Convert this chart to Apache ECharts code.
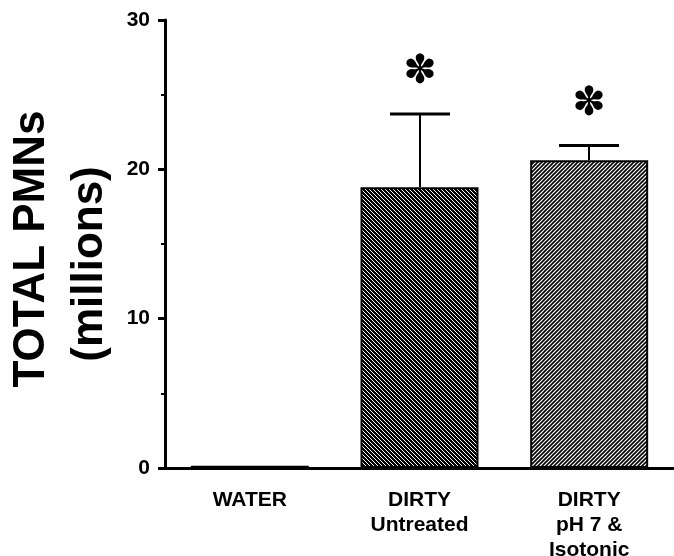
<!DOCTYPE html>
<html><head><meta charset="utf-8">
<script src="https://cdn.jsdelivr.net/npm/echarts@6/dist/echarts.min.js"></script>
<style>html,body{margin:0;padding:0;background:#fff}#c{width:674px;height:556px}</style>
</head><body><div id="c"></div>
<script>
const categories = ['WATER', 'DIRTY\nUntreated', 'DIRTY\npH 7 &\nIsotonic'];
const means = [0.15, 18.8, 20.6];
const errorUpper = [0.15, 23.7, 21.6];
const significant = [false, true, true];
const yTicks = [0, 10, 20, 30];

function hatch(dir, bg, fg, lw) {
  const c = document.createElement('canvas');
  c.width = 8; c.height = 8;
  const g = c.getContext('2d');
  g.fillStyle = bg; g.fillRect(0, 0, 8, 8);
  g.strokeStyle = fg; g.lineWidth = lw;
  for (let k = -3; k <= 3; k++) {
    g.beginPath();
    if (dir === '/') { g.moveTo(k * 4 - 2, 10); g.lineTo(k * 4 + 10, -2); }
    else { g.moveTo(k * 4 - 2, -2); g.lineTo(k * 4 + 10, 10); }
    g.stroke();
  }
  return c;
}
const pats = [
  '#000',
  { image: hatch('\\', '#000', '#fff', 1.0), repeat: 'repeat' },
  { image: hatch('/', '#fff', '#000', 1.6), repeat: 'repeat' }
];

const chart = echarts.init(document.getElementById('c'), null, { renderer: 'canvas' });
const font = '"Liberation Sans", Arial, Helvetica, sans-serif';
chart.setOption({
  animation: false,
  grid: { left: 165, right: 0, top: 20, bottom: 88, containLabel: false, outerBoundsMode: 'none' },
  xAxis: {
    type: 'category', data: categories,
    axisLine: { lineStyle: { color: '#000', width: 3 } },
    axisTick: { show: false },
    axisLabel: { color: '#000', fontFamily: font, fontWeight: 'bold', fontSize: 21, lineHeight: 25, margin: 20 }
  },
  yAxis: {
    type: 'value', min: yTicks[0], max: yTicks[yTicks.length - 1], interval: 10,
    axisLine: { show: true, lineStyle: { color: '#000', width: 3 } },
    axisTick: { show: true, length: 7, lineStyle: { color: '#000', width: 3 } },
    minorTick: { show: true, splitNumber: 2, length: 4, lineStyle: { color: '#000', width: 2 } },
    splitLine: { show: false },
    axisLabel: { color: '#000', fontFamily: font, fontWeight: 'bold', fontSize: 21, margin: 15 }
  },
  graphic: [
    { type: 'text', rotation: Math.PI / 2, x: 32, y: 249,
      style: { text: 'TOTAL PMNs', font: 'bold 44px ' + font, fill: '#000', align: 'center', verticalAlign: 'middle' } },
    { type: 'text', rotation: Math.PI / 2, x: 90, y: 264,
      style: { text: '(millions)', font: 'bold 44px ' + font, fill: '#000', align: 'center', verticalAlign: 'middle' } }
  ],
  series: [
    {
      type: 'bar', barWidth: 118,
      data: means.map((v, i) => ({ value: v, itemStyle: { color: pats[i] } })),
      itemStyle: { borderColor: '#000', borderWidth: 2 }
    },
    {
      type: 'custom',
      data: means.map((v, i) => [i, v, errorUpper[i], significant[i] ? 1 : 0]),
      renderItem: function (params, api) {
        const i = api.value(0);
        if (!api.value(3)) return null;
        const p0 = api.coord([i, api.value(1)]);
        const p1 = api.coord([i, api.value(2)]);
        const x = Math.round(p0[0]);
        return {
          type: 'group',
          children: [
            { type: 'line', shape: { x1: x, y1: p0[1], x2: x, y2: p1[1] }, style: { stroke: '#000', lineWidth: 2 } },
            { type: 'line', shape: { x1: x - 30, y1: p1[1], x2: x + 30, y2: p1[1] }, style: { stroke: '#000', lineWidth: 3 } },
            { type: 'text', x: x, y: p1[1] - 41, style: { text: '✽', font: '40px "DejaVu Sans"', fill: '#000', align: 'center', verticalAlign: 'middle' } }
          ]
        };
      },
      z: 5
    }
  ]
});
</script></body></html>
